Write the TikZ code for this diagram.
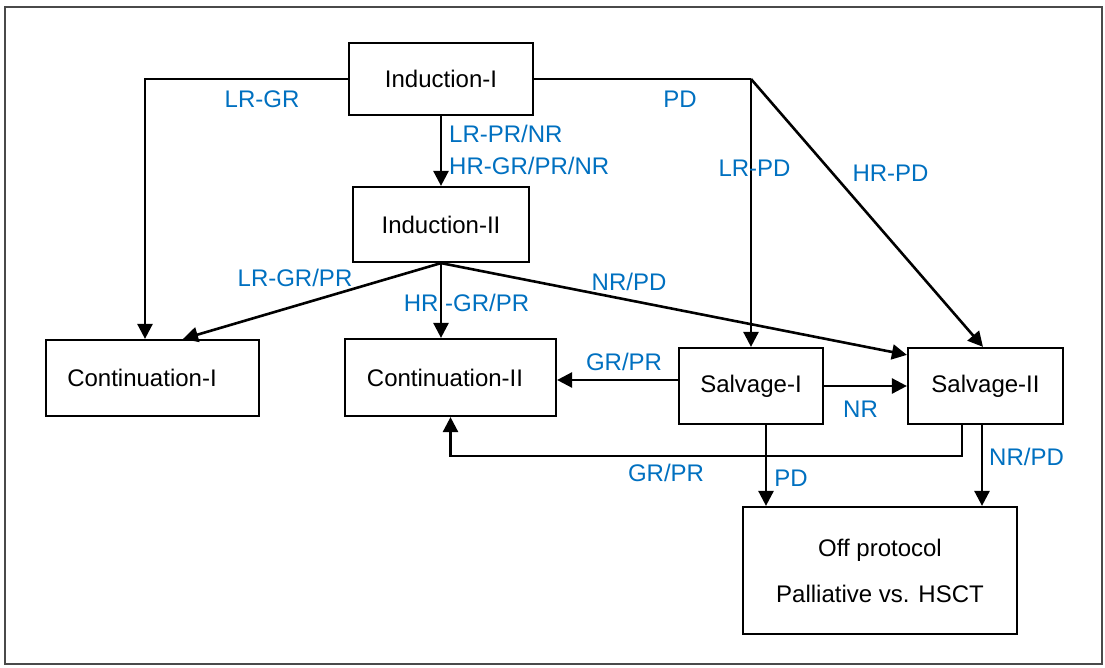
\documentclass[tikz,border=0pt]{standalone}
\usepackage{fontspec}
\setmainfont{Liberation Sans}
\usetikzlibrary{arrows.meta,calc}
\definecolor{lblue}{HTML}{0070C0}
\definecolor{framegray}{HTML}{4A4A4A}
\begin{document}
\begin{tikzpicture}[x=1pt,y=-1pt,
  box/.style={draw=black, line width=2.2pt, inner sep=0pt, font=\fontsize{24}{28}\selectfont},
  lbl/.style={text=lblue, inner sep=0pt, font=\fontsize{24}{28}\selectfont},
  conn/.style={line width=2.6pt, -{Triangle[length=15pt,width=15pt]}},
  plainline/.style={line width=2.6pt}]
\useasboundingbox (0,0) rectangle (1105,668);
\draw[framegray, line width=2.2pt] (5,7) rectangle (1102,664);

% boxes
\node[box, minimum width=184pt, minimum height=72pt] (ind1) at (441,79) {Induction-I};
\node[box, minimum width=176pt, minimum height=75pt] (ind2) at (441,224.5) {Induction-II};
\node[box, minimum width=213pt, minimum height=76pt] (cont1) at (152.5,378) {Continuation-I\kern21pt};
\node[box, minimum width=211pt, minimum height=77pt] (cont2) at (450.5,377.5) {Continuation-II\kern11pt};
\node[box, minimum width=144pt, minimum height=76pt] (sal1) at (751,386) {Salvage-I};
\node[box, minimum width=155pt, minimum height=76pt] (sal2) at (985.5,386) {Salvage-II};
\node[box, minimum width=274pt, minimum height=127pt, align=center,
      font=\fontsize{24}{46}\selectfont] (off) at (880,570.5) {Off protocol\\Palliative vs. HSCT};

% connectors
\coordinate (split) at (ind1.east -| sal1.north);
\draw[conn] (ind1.west) -| ([xshift=-7.5pt]cont1.north);
\draw[conn] (ind1.south) -- (ind2.north);
\draw[plainline] (ind1.east) -- (split);
\draw[conn] (split) -- (sal1.north);
\draw[conn] (split) -- ([xshift=-2.5pt]sal2.north);
\draw[conn] (ind2.south) -- ([xshift=30.5pt]cont1.north);
\draw[conn] (ind2.south) -- (ind2.south |- cont2.north);
\draw[conn] (ind2.south) -- ([yshift=-8pt]sal2.north west);
\draw[conn] ([yshift=6pt]sal1.west) -- ([yshift=6pt]sal1.west -| cont2.east);
\draw[conn] (sal1.east) -- (sal2.west);
\draw[conn] ([xshift=15pt]sal1.south) -- ([xshift=15pt]sal1.south |- off.north);
\draw[conn] ([xshift=-3.5pt]sal2.south) -- ([xshift=-3.5pt]sal2.south |- off.north);
\draw[conn] ([xshift=-23.5pt]sal2.south) -- ++(0,31) -| (cont2.south);

% labels
\node[lbl] (l1) at (262,99) {LR-GR};
\node[lbl] (l2) at (680,99) {PD};
\node[lbl, anchor=west] (l3) at (449,134) {LR-PR/NR};
\node[lbl, anchor=west] (l4) at (449,166) {HR-GR/PR/NR};
\node[lbl] (l5) at (754.5,168) {LR-PD};
\node[lbl] (l6) at (890.5,173) {HR-PD};
\node[lbl] (l7) at (295,278) {LR-GR/PR};
\node[lbl] (l8) at (466.5,303) {HR\ -GR/PR};
\node[lbl] (l9) at (629,282) {NR/PD};
\node[lbl] (l10) at (624,362) {GR/PR};
\node[lbl] (l11) at (860.5,409) {NR};
\node[lbl] (l12) at (666,473) {GR/PR};
\node[lbl] (l13) at (791,478) {PD};
\node[lbl] (l14) at (1026.5,457) {NR/PD};
\end{tikzpicture}
\end{document}
